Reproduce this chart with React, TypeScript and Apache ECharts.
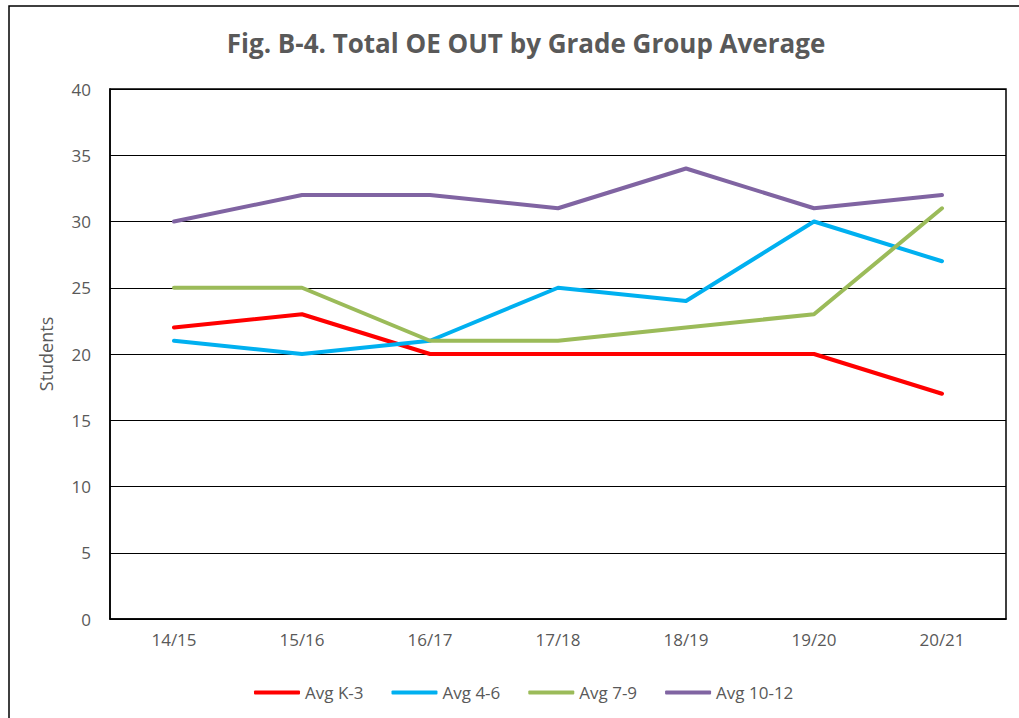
import React, { useEffect, useRef } from "react";
import * as echarts from "echarts";

const categories = ["14/15", "15/16", "16/17", "17/18", "18/19", "19/20", "20/21"];
const avgK3 = [22, 23, 20, 20, 20, 20, 17];
const avg46 = [21, 20, 21, 25, 24, 30, 27];
const avg79 = [25, 25, 21, 21, 22, 23, 31];
const avg1012 = [30, 32, 32, 31, 34, 31, 32];
const seriesNames = ["Avg K-3", "Avg 4-6", "Avg 7-9", "Avg 10-12"];
const colors = ["#FF0000", "#00B0F0", "#9BBB59", "#8064A2"];

const FONT = "'Open Sans', 'Noto Sans', sans-serif";
const GRAY = "#595959";

export default function App() {
  const ref = useRef<HTMLDivElement>(null);
  useEffect(() => {
    if (!ref.current) return;
    const chart = echarts.init(ref.current, undefined, { renderer: "svg" });
    const data = [avgK3, avg46, avg79, avg1012];
    chart.setOption({
      animation: false,
      backgroundColor: "#ffffff",
      title: {
        text: "Fig. B-4. Total OE OUT by Grade Group Average",
        left: 521,
        textAlign: "center",
        top: 25,
        textStyle: { fontFamily: FONT, fontWeight: "bold", fontSize: 26, color: GRAY },
      },
      graphic: [
        {
          type: "rect",
          shape: { x: 9, y: 6, width: 1040, height: 740 },
          style: { fill: "none", stroke: "#000", lineWidth: 1.5 },
          silent: true,
        },
      ],
      legend: {
        left: 249,
        top: 679,
        itemWidth: 46,
        itemHeight: 4,
        itemGap: 28,
        icon: "roundRect",
        textStyle: { fontFamily: FONT, fontSize: 17, color: GRAY },
        data: seriesNames,
      },
      grid: {
        left: 110,
        top: 89,
        right: 13,
        bottom: 99,
        show: true,
        borderColor: "#000",
        borderWidth: 1.5,
        containLabel: false,
      },
      xAxis: {
        type: "category",
        data: categories,
        boundaryGap: true,
        axisLine: { show: true, lineStyle: { color: "#000", width: 1.5 } },
        axisTick: { show: false },
        axisLabel: { fontFamily: FONT, fontSize: 17, color: GRAY, margin: 12 },
      },
      yAxis: {
        type: "value",
        min: 0,
        max: 40,
        interval: 5,
        name: "Students",
        nameLocation: "middle",
        nameGap: 55,
        nameTextStyle: { fontFamily: FONT, fontSize: 18, color: GRAY },
        axisLine: { show: true, lineStyle: { color: "#000", width: 1.5 } },
        axisTick: { show: false },
        splitLine: { show: true, lineStyle: { color: "#000", width: 1 } },
        axisLabel: { fontFamily: FONT, fontSize: 17, color: GRAY, margin: 19 },
      },
      series: seriesNames.map((name, i) => ({
        name,
        type: "line",
        data: data[i],
        symbol: "none",
        showSymbol: false,
        color: colors[i],
        lineStyle: { width: 4, color: colors[i], cap: "round", join: "round" },
      })),
    });
    return () => chart.dispose();
  }, []);
  return (
    <div
      ref={ref}
      style={{ position: "absolute", left: 0, top: 0, width: 1019, height: 718 }}
    />
  );
}
